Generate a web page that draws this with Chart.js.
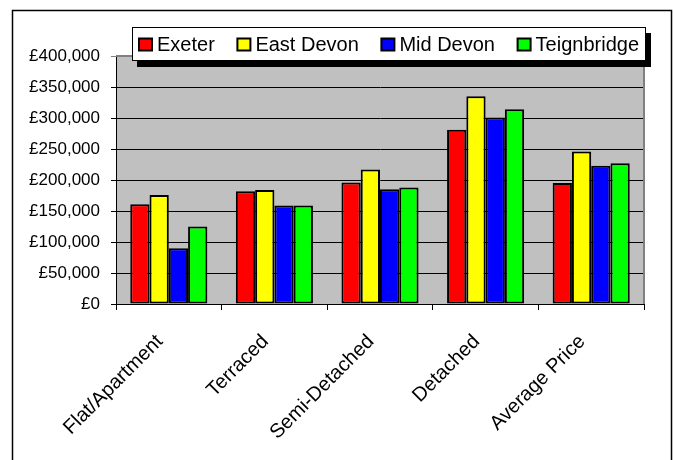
<!DOCTYPE html>
<html>
<head>
<meta charset="utf-8">
<script src="https://cdn.jsdelivr.net/npm/chart.js@4/dist/chart.umd.min.js"></script>
<style>
  html, body { margin: 0; padding: 0; background: #ffffff; }
  #wrap { width: 674px; height: 460px; position: relative; }
</style>
</head>
<body>
<div id="wrap"><canvas id="c" width="674" height="460"></canvas></div>
<script>
const categories = ['Flat/Apartment', 'Terraced', 'Semi-Detached', 'Detached', 'Average Price'];
const seriesNames = ['Exeter', 'East Devon', 'Mid Devon', 'Teignbridge'];
const exeter      = [161000, 182000, 196000, 281000, 195000];
const eastDevon   = [176000, 184000, 217000, 335000, 246000];
const midDevon    = [90000, 159000, 185000, 301000, 223000];
const teignbridge = [125000, 159000, 188000, 314000, 227000];
const yMin = 0, yMax = 400000, yStep = 50000;

const colors = ['#FF0000', '#FFFF00', '#0000FF', '#00FF00'];
const seriesValues = [exeter, eastDevon, midDevon, teignbridge];

const FONT = '"Liberation Sans", Arial, sans-serif';

const bgAndFrame = {
  id: 'bgAndFrame',
  beforeDraw(chart) {
    const { ctx, chartArea: a } = chart;
    ctx.save();
    ctx.fillStyle = '#C0C0C0';
    ctx.fillRect(a.left, a.top, a.right - a.left, a.bottom - a.top);
    ctx.restore();
  },
  afterDatasetsDraw(chart) {
    const { ctx, chartArea: a } = chart;
    ctx.save();
    ctx.strokeStyle = '#808080';
    ctx.lineWidth = 2;
    ctx.beginPath();
    ctx.moveTo(a.left, a.top);
    ctx.lineTo(a.right, a.top);
    ctx.lineTo(a.right, a.bottom);
    ctx.stroke();
    ctx.restore();
  },
  afterDraw(chart) {
    const { ctx } = chart;
    ctx.save();
    // outer frame
    ctx.strokeStyle = '#000000';
    ctx.lineWidth = 1.5;
    ctx.strokeRect(12.5, 10.5, 659, 460);
    // legend
    const bx = 132, by = 27, bw = 514, bh = 34;
    ctx.fillStyle = '#000000';
    ctx.fillRect(bx + 5, by + 6, bw, bh);
    ctx.fillStyle = '#FFFFFF';
    ctx.fillRect(bx, by, bw, bh);
    ctx.strokeStyle = '#000000';
    ctx.lineWidth = 1;
    ctx.strokeRect(bx + 0.5, by + 0.5, bw - 1, bh - 1);
    ctx.font = '20px ' + FONT;
    ctx.textBaseline = 'middle';
    ctx.textAlign = 'left';
    const ds = chart.data.datasets;
    const sw = 13, gapSw = 5;
    const widths = ds.map(d => sw + gapSw + ctx.measureText(d.label).width);
    const total = widths.reduce((s, w) => s + w, 0);
    const pad = 7;
    const gap = (bw - 2 * pad - total) / (ds.length - 1);
    let x = bx + pad;
    const cy = by + bh / 2 + 1;
    ds.forEach((d, i) => {
      ctx.fillStyle = d.backgroundColor;
      ctx.fillRect(x, cy - 6.5, sw, 12);
      ctx.strokeStyle = '#000000';
      ctx.lineWidth = 2;
      ctx.strokeRect(x, cy - 6.5, sw, 12);
      ctx.fillStyle = '#000000';
      ctx.fillText(d.label, x + sw + gapSw, cy);
      x += widths[i] + gap;
    });
    ctx.restore();
  }
};

new Chart(document.getElementById('c'), {
  type: 'bar',
  data: {
    labels: categories,
    datasets: seriesNames.map((name, i) => ({
      label: name,
      data: seriesValues[i],
      backgroundColor: colors[i],
      borderColor: '#000000',
      borderWidth: 2,
      borderSkipped: false,
      categoryPercentage: 0.73,
      barPercentage: 1.0
    }))
  },
  options: {
    responsive: false,
    animation: false,
    devicePixelRatio: 1,
    layout: { padding: { left: 0, right: 30, top: 56, bottom: 0 } },
    plugins: { legend: { display: false }, tooltip: { enabled: false } },
    scales: {
      x: {
        afterFit(scale) { scale.height = 156; },
        grid: {
          display: true,
          offset: true,
          drawOnChartArea: false,
          drawTicks: true,
          tickLength: 6,
          color: '#000000',
          lineWidth: 1
        },
        border: { display: true, color: '#000000', width: 1 },
        ticks: {
          minRotation: 45,
          maxRotation: 45,
          autoSkip: false,
          padding: 20,
          labelOffset: -9,
          color: '#000000',
          font: { family: FONT, size: 20 }
        }
      },
      y: {
        min: yMin,
        max: yMax,
        afterFit(scale) { scale.width = 116; },
        grid: {
          color: (c) => (c.tick && c.tick.value === yMax ? '#808080' : '#000000'),
          lineWidth: 1,
          drawTicks: true,
          tickLength: 5
        },
        border: { display: true, color: '#000000', width: 1 },
        ticks: {
          stepSize: yStep,
          padding: 11,
          color: '#000000',
          font: { family: FONT, size: 17 },
          callback: (v) => '£' + Number(v).toLocaleString('en-GB')
        }
      }
    }
  },
  plugins: [bgAndFrame]
});
</script>
</body>
</html>
